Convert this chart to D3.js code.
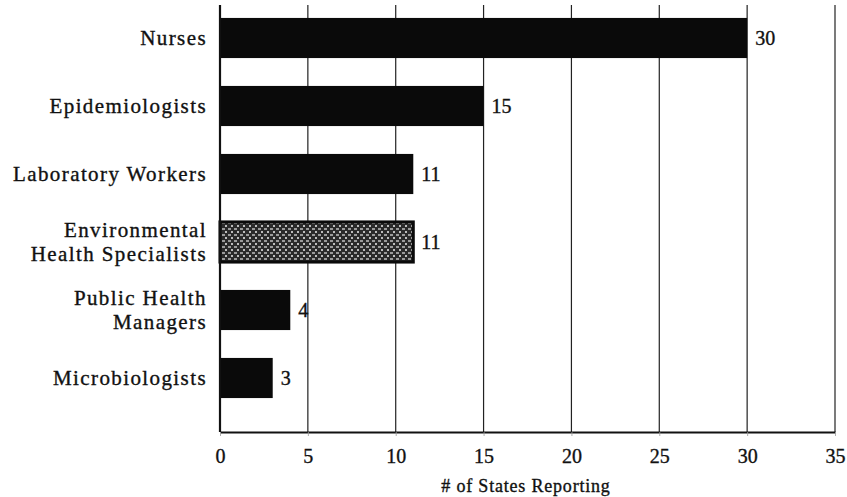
<!DOCTYPE html>
<html>
<head>
<meta charset="utf-8">
<script src="https://cdn.jsdelivr.net/npm/d3@7"></script>
<style>
  html, body { margin: 0; padding: 0; background: #fff; }
  svg { display: block; }
  text { font-family: "Liberation Serif", "DejaVu Serif", serif; fill: #111; stroke: #111; stroke-width: 0.35px; }
</style>
</head>
<body>
<svg id="chart" width="847" height="497"></svg>
<script>
const categories = [
  ["Nurses"],
  ["Epidemiologists"],
  ["Laboratory Workers"],
  ["Environmental", "Health Specialists"],
  ["Public Health", "Managers"],
  ["Microbiologists"]
];
const values = [30, 15, 11, 11, 4, 3];
const xTicks = [0, 5, 10, 15, 20, 25, 30, 35];
const xTitle = "# of States Reporting";
const textured = [false, false, false, true, false, false];

const svg = d3.select("#chart");
const defs = svg.append("defs");
const pat = defs.append("pattern")
  .attr("id", "speckle").attr("patternUnits", "userSpaceOnUse")
  .attr("width", 6).attr("height", 6);
pat.append("rect").attr("width", 6).attr("height", 6).attr("fill", "#2a2a2a");
pat.append("rect").attr("x", 0).attr("y", 0).attr("width", 3).attr("height", 2).attr("fill", "#9a9a9a");
pat.append("rect").attr("x", 3).attr("y", 3).attr("width", 2).attr("height", 2).attr("fill", "#bdbdbd");

const x = d3.scaleLinear().domain([0, 35]).range([220, 835]);
const keys = categories.map(c => c.join(" "));
const y = d3.scaleBand().domain(keys).range([4, 412]).paddingInner(0.41).paddingOuter(0.205);
const plotTop = 5, plotBottom = 432;

// gridlines
svg.append("g").selectAll("line")
  .data(xTicks.filter(t => t > 0))
  .join("line")
  .attr("x1", d => x(d)).attr("x2", d => x(d))
  .attr("y1", plotTop).attr("y2", plotBottom)
  .attr("stroke", "#222").attr("stroke-width", 1.2);

// bars
svg.append("g").selectAll("rect")
  .data(values)
  .join("rect")
  .attr("x", x(0))
  .attr("y", (d, i) => y(keys[i]))
  .attr("width", d => x(d) - x(0))
  .attr("height", y.bandwidth())
  .attr("fill", (d, i) => textured[i] ? "url(#speckle)" : "#0a0a0a")
  .attr("stroke", "#0a0a0a")
  .attr("stroke-width", (d, i) => textured[i] ? 3 : 0);

// value labels
svg.append("g").selectAll("text")
  .data(values)
  .join("text")
  .attr("x", d => x(d) + 8)
  .attr("y", (d, i) => y(keys[i]) + y.bandwidth() / 2)
  .attr("dy", "0.35em")
  .attr("font-size", 20)
  .text(d => d);

// category labels
const lab = svg.append("g").selectAll("text")
  .data(categories)
  .join("text")
  .attr("x", 207)
  .attr("y", (d, i) => y(keys[i]) + y.bandwidth() / 2)
  .attr("text-anchor", "end")
  .attr("font-size", 21)
  .attr("letter-spacing", 1.4);
lab.each(function(d) {
  const t = d3.select(this);
  const n = d.length;
  d.forEach((line, j) => {
    t.append("tspan")
      .attr("x", 207)
      .attr("dy", j === 0 ? (0.35 - (n - 1) * 0.57) + "em" : "1.14em")
      .text(line);
  });
});

// axes lines
svg.append("line")
  .attr("x1", x(0)).attr("x2", x(0))
  .attr("y1", plotTop).attr("y2", plotBottom)
  .attr("stroke", "#111").attr("stroke-width", 2.2);

const xAxis = d3.axisBottom(x).tickValues(xTicks).tickSize(4).tickSizeOuter(0);
const gx = svg.append("g").attr("transform", `translate(0,${plotBottom})`).call(xAxis);
gx.select(".domain").attr("stroke", "#111").attr("stroke-width", 2.2);
gx.selectAll(".tick line").attr("stroke", "#999").attr("stroke-width", 0.8);
gx.selectAll(".tick text")
  .attr("font-family", "Liberation Serif, DejaVu Serif, serif")
  .attr("font-size", 20)
  .attr("fill", "#111")
  .attr("dy", "1.2em");

svg.append("text")
  .attr("x", 526)
  .attr("y", 492)
  .attr("text-anchor", "middle")
  .attr("font-size", 18)
  .attr("letter-spacing", 0.8)
  .text(xTitle);
</script>
</body>
</html>
